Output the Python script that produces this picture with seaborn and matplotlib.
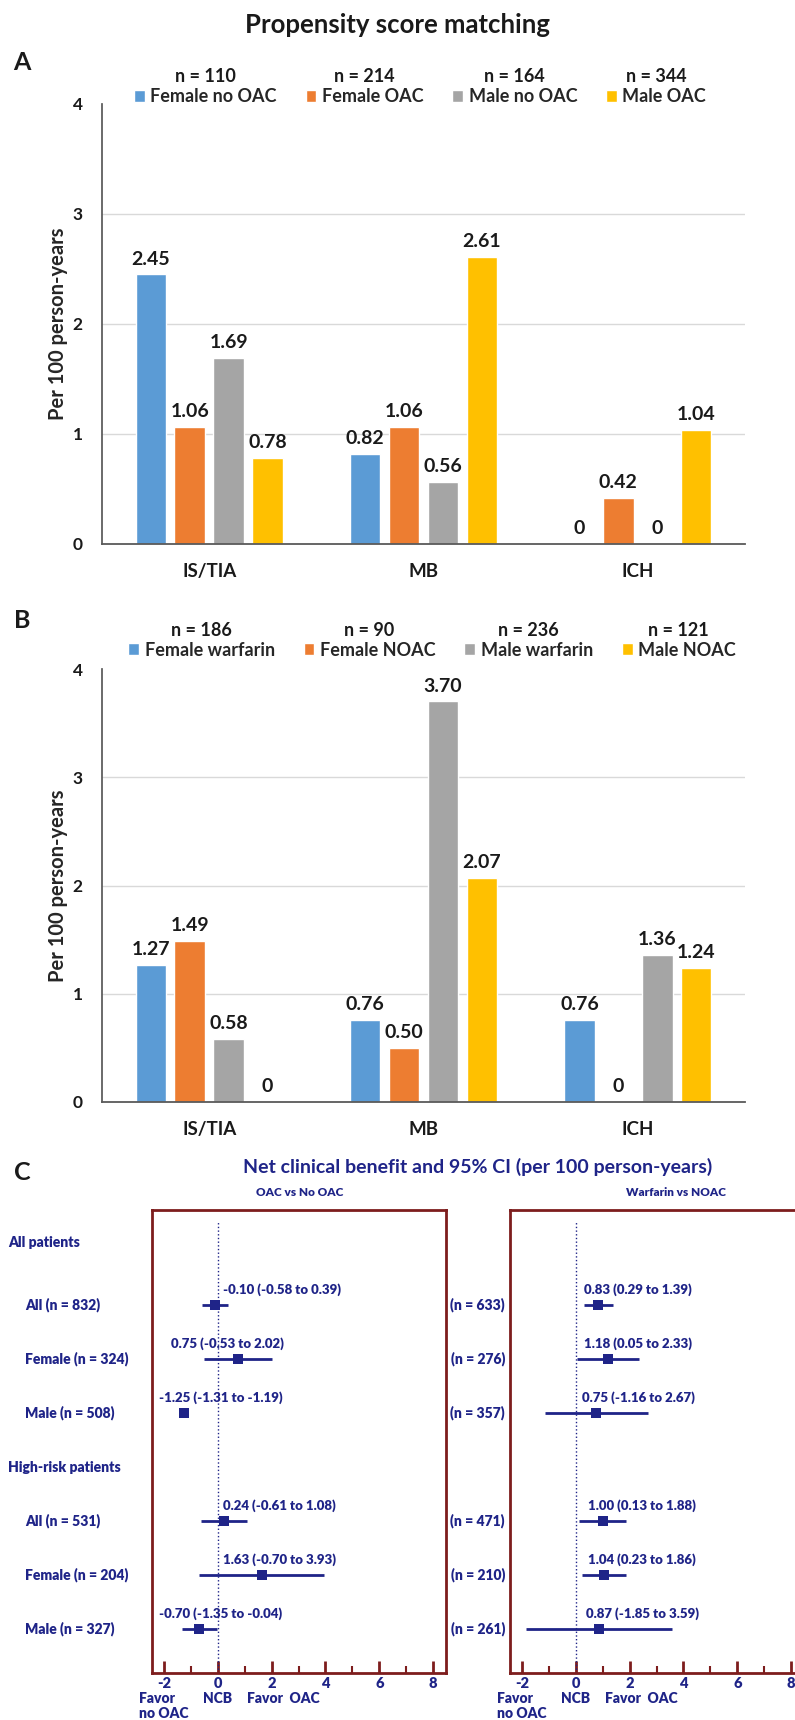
import matplotlib
matplotlib.use('Agg')
import matplotlib.pyplot as plt
import numpy as np
import pandas as pd
import seaborn as sns
from matplotlib.transforms import blended_transform_factory

# ---- data -------------------------------------------------------------
outcomes = ['IS/TIA', 'MB', 'ICH']

groups_a = ['Female no OAC', 'Female OAC', 'Male no OAC', 'Male OAC']
n_a = [110, 214, 164, 344]
female_no_oac = [2.45, 0.82, 0]
female_oac = [1.06, 1.06, 0.42]
male_no_oac = [1.69, 0.56, 0]
male_oac = [0.78, 2.61, 1.04]

groups_b = ['Female warfarin', 'Female NOAC', 'Male warfarin', 'Male NOAC']
n_b = [186, 90, 236, 121]
female_warfarin = [1.27, 0.76, 0.76]
female_noac = [1.49, 0.50, 0]
male_warfarin = [0.58, 3.70, 1.36]
male_noac = [0, 2.07, 1.24]

subgroup_labels = ['All (n = 832)', 'Female (n = 324)', 'Male (n = 508)',
                   'All (n = 531)', 'Female (n = 204)', 'Male (n = 327)']
oac_est = [-0.10, 0.75, -1.25, 0.24, 1.63, -0.70]
oac_lo = [-0.58, -0.53, -1.31, -0.61, -0.70, -1.35]
oac_hi = [0.39, 2.02, -1.19, 1.08, 3.93, -0.04]

noac_n = ['(n = 633)', '(n = 276)', '(n = 357)', '(n = 471)', '(n = 210)', '(n = 261)']
war_est = [0.83, 1.18, 0.75, 1.00, 1.04, 0.87]
war_lo = [0.29, 0.05, -1.16, 0.13, 0.23, -1.85]
war_hi = [1.39, 2.33, 2.67, 1.88, 1.86, 3.59]

# ---- style ------------------------------------------------------------
sns.set_theme(style='white')
plt.rcParams['font.family'] = ['Lato', 'DejaVu Sans']
plt.rcParams['font.weight'] = 'bold'

colors = ['#5B9BD5', '#ED7D31', '#A5A5A5', '#FFC000']
navy = '#1f2488'
box_col = '#7d1d1d'
ink = '#1a1a1a'
W, H = 795, 1720
cw = 'heavy'   # weight used for the small text of panel C

fig = plt.figure(figsize=(W / 100, H / 100), dpi=100)


def fx(px):
    return px / W


def fy(px):
    return 1 - px / H


def fmt(v):
    return '0' if v == 0 else f'{v:.2f}'


def bar_panel(top, bottom, series, groups, ns, leg_x, leg_y, n_y):
    ax = fig.add_axes([fx(102), fy(bottom), fx(745) - fx(102), (bottom - top) / H])
    df = pd.DataFrame({'outcome': outcomes * len(groups),
                       'group': np.repeat(groups, len(outcomes)),
                       'rate': np.concatenate(series)})
    sns.barplot(data=df, x='outcome', y='rate', hue='group', hue_order=groups,
                palette=colors, saturation=1, width=0.727, gap=0.22,
                errorbar=None, ax=ax)
    for c in ax.containers:
        ax.bar_label(c, labels=[fmt(v) for v in c.datavalues], padding=5,
                     fontsize=14, fontweight='bold', color=ink)
    ax.set_xlim(-0.5, 2.5)
    ax.set_ylim(0, 4)
    ax.set_yticks(range(5))
    for g in [1, 2, 3]:
        ax.axhline(g, color='#d9d9d9', lw=1, zorder=0)
    ax.set_axisbelow(True)
    sns.despine(ax=ax)
    ax.spines['left'].set_color('#595959')
    ax.spines['bottom'].set_color('#595959')
    ax.spines['bottom'].set_linewidth(1.3)
    ax.tick_params(axis='y', length=0, pad=14, labelsize=12.5, labelcolor=ink)
    ax.tick_params(axis='x', length=0, pad=14, labelsize=13.5, labelcolor=ink)
    ax.set_xlabel('')
    ax.set_ylabel('Per 100 person-years', fontsize=14.5, fontweight='bold', labelpad=3)

    handles, labels = ax.get_legend_handles_labels()
    ax.get_legend().remove()
    leg = fig.legend(handles, labels, loc='center', bbox_to_anchor=(fx(leg_x), fy(leg_y)),
                     ncol=4, frameon=False, fontsize=13, handlelength=0.6,
                     handleheight=0.6, handletextpad=0.3, columnspacing=1.6)
    fig.canvas.draw()
    r = fig.canvas.get_renderer()
    for h, t, n in zip(leg.legend_handles, leg.get_texts(), ns):
        x0 = h.get_window_extent(r).x0
        x1 = t.get_window_extent(r).x1
        fig.text((x0 + x1) / 2 / fig.bbox.width, fy(n_y), f'n = {n}',
                 ha='center', va='center', fontsize=13, color=ink)
    return ax


fig.text(0.5, fy(25), 'Propensity score matching', ha='center', va='center',
         fontsize=18.5, color=ink)
for letter, ly in [('A', 63), ('B', 620), ('C', 1172)]:
    fig.text(fx(22), fy(ly), letter, ha='center', va='center', fontsize=18, color=ink)

bar_panel(104, 544, [female_no_oac, female_oac, male_no_oac, male_oac],
          groups_a, n_a, 420, 97, 77)
bar_panel(669, 1102, [female_warfarin, female_noac, male_warfarin, male_noac],
          groups_b, n_b, 432, 650, 630)

# ---- panel C forest plots -------------------------------------------
rows = [1, 2, 3, 5, 6, 7]
box_top, box_bot = 1210, 1673
row0, row_step = 1251, 54
ylim = ((box_bot - row0) / row_step, (box_top - row0) / row_step)
box_w = 294

fig.text(fx(478), fy(1167), 'Net clinical benefit and 95% CI (per 100 person-years)',
         ha='center', va='center', fontsize=14, color=navy)
fig.text(fx(300), fy(1192), 'OAC vs No OAC', ha='center', va='center', fontsize=8.5,
         color=navy, fontweight=cw)
fig.text(fx(676), fy(1192), 'Warfarin vs NOAC', ha='center', va='center', fontsize=8.5,
         color=navy, fontweight=cw)


def forest(left_px, est, lo, hi, label_x):
    ax = fig.add_axes([fx(left_px), fy(box_bot), box_w / W, (box_bot - box_top) / H])
    ax.set_facecolor('white')
    ax.hlines(rows, lo, hi, color=navy, lw=2, zorder=2)
    sns.scatterplot(x=est, y=rows, marker='s', s=50, color=navy, edgecolor=navy,
                    linewidth=0, ax=ax, zorder=3)
    ax.axvline(0, ymin=0, ymax=0.974, color=navy, ls=':', lw=1, zorder=1)
    for r_, e, l, h, lx in zip(rows, est, lo, hi, label_x):
        ax.text(lx, r_ - 0.29, f'{e:.2f} ({l:.2f} to {h:.2f})', ha='left', va='center',
                fontsize=9.5, color=navy, fontweight=cw)
    ax.set_xlim(-2.45, 8.48)
    ax.set_ylim(*ylim)
    for s in ax.spines.values():
        s.set_visible(True)
        s.set_color(box_col)
        s.set_linewidth(2)
    ax.set_xticks([-2, 0, 2, 4, 6, 8])
    ax.set_xticks([-1, 1, 3, 5, 7], minor=True)
    ax.set_xticklabels(['-2', '0', '2', '4', '6', '8'], fontweight=cw)
    ax.tick_params(axis='x', which='major', direction='in', length=9, width=2,
                   color=box_col, labelsize=10.5, labelcolor=navy, pad=3, bottom=True)
    ax.tick_params(axis='x', which='minor', direction='in', length=5, width=1.5,
                   color=box_col, bottom=True)
    ax.set_yticks([])
    tr = blended_transform_factory(ax.transData, ax.transAxes)
    ty = -0.041
    ax.text(-2, ty, 'Favor\nno OAC', ha='center', va='top', multialignment='left',
            fontsize=10, color=navy, transform=tr, linespacing=1.15, fontweight=cw)
    ax.text(0, ty, 'NCB', ha='center', va='top', fontsize=10, color=navy,
            transform=tr, fontweight=cw)
    ax.text(1.1, ty, 'Favor  OAC', ha='left', va='top', fontsize=10, color=navy,
            transform=tr, fontweight=cw)
    return ax


ax_l = forest(152, oac_est, oac_lo, oac_hi, [0.19, -1.74, -2.2, 0.19, 0.19, -2.2])
ax_r = forest(510, war_est, war_lo, war_hi, [0.3, 0.3, 0.22, 0.44, 0.44, 0.37])

tl = blended_transform_factory(fig.transFigure, ax_l.transData)
ax_l.text(fx(8), -0.15, 'All patients', ha='left', va='center', fontsize=10,
          color=navy, transform=tl, clip_on=False, fontweight=cw)
ax_l.text(fx(8), 4, 'High-risk patients', ha='left', va='center', fontsize=10,
          color=navy, transform=tl, clip_on=False, fontweight=cw)
for r_, lab, nl in zip(rows, subgroup_labels, noac_n):
    ax_l.text(fx(25), r_, lab, ha='left', va='center', fontsize=10, color=navy,
              transform=tl, clip_on=False, fontweight=cw)
    ax_l.text(fx(505), r_, nl, ha='right', va='center', fontsize=10, color=navy,
              transform=tl, clip_on=False, fontweight=cw)

fig.savefig('out.png', dpi=100, facecolor='white')
